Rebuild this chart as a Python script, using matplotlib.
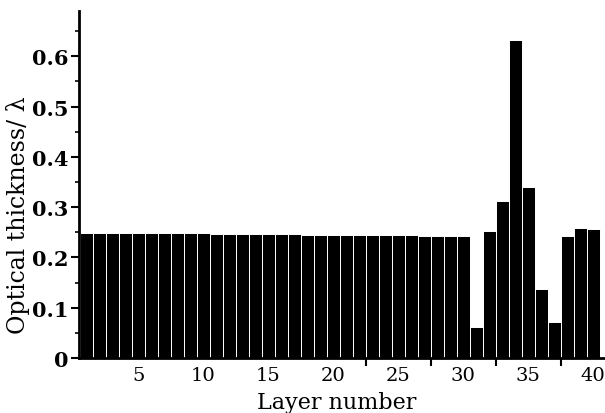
import matplotlib
matplotlib.use("Agg")
import matplotlib.pyplot as plt
from matplotlib.ticker import MultipleLocator, FixedLocator

layers = list(range(1, 41))
thickness = [0.249, 0.249, 0.249, 0.249, 0.249, 0.248, 0.248, 0.248, 0.248, 0.248,
             0.247, 0.247, 0.247, 0.246, 0.246, 0.246, 0.246, 0.245, 0.245, 0.245,
             0.245, 0.245, 0.244, 0.244, 0.244, 0.244, 0.243, 0.243, 0.243, 0.242,
             0.062, 0.252, 0.312, 0.632, 0.340, 0.137, 0.071, 0.242, 0.258, 0.256]
xtick_labels = ["5", "10", "15", "20", "25", "30", "35", "40"]
xtick_pos = [5, 10, 15, 20, 25, 30, 35, 40]
xtick_marks = [22.5, 27.5, 32.5, 37.5]
ytick_vals = [0, 0.1, 0.2, 0.3, 0.4, 0.5, 0.6]
ytick_labels = ["0", "0.1", "0.2", "0.3", "0.4", "0.5", "0.6"]

plt.rcParams['font.family'] = ['DejaVu Serif']

fig = plt.figure(figsize=(6.05, 4.14), dpi=100)
ax = fig.add_axes([0.131, 0.133, 0.869, 0.838])

ax.bar(layers, thickness, width=1.0, color='black', edgecolor='white', linewidth=0.7)

ax.set_xlim(0.45, 40.9)
ax.set_ylim(0, 0.69)

for s in ['top', 'right']:
    ax.spines[s].set_visible(False)
for s in ['left', 'bottom']:
    ax.spines[s].set_linewidth(2.0)

ax.yaxis.set_major_locator(FixedLocator(ytick_vals))
ax.set_yticklabels(ytick_labels, fontsize=15, fontweight='bold')
ax.yaxis.set_minor_locator(MultipleLocator(0.05))
ax.tick_params(axis='y', which='major', length=6, width=1.5, direction='out', pad=2)
ax.tick_params(axis='y', which='minor', length=3, width=1.2, direction='out')

ax.xaxis.set_major_locator(FixedLocator(xtick_pos))
ax.set_xticklabels(xtick_labels, fontsize=14)
ax.tick_params(axis='x', which='major', length=0, pad=6)
ax.xaxis.set_minor_locator(FixedLocator(xtick_marks))
ax.tick_params(axis='x', which='minor', length=6, width=1.5, direction='out')

fig.text(0.03, 0.48, "Optical thickness/ \u03bb", rotation=90, fontsize=17,
         ha='center', va='center')
fig.text(0.557, 0.026, "Layer number", fontsize=16, ha='center', va='center')

fig.savefig("out.png", dpi=100)
